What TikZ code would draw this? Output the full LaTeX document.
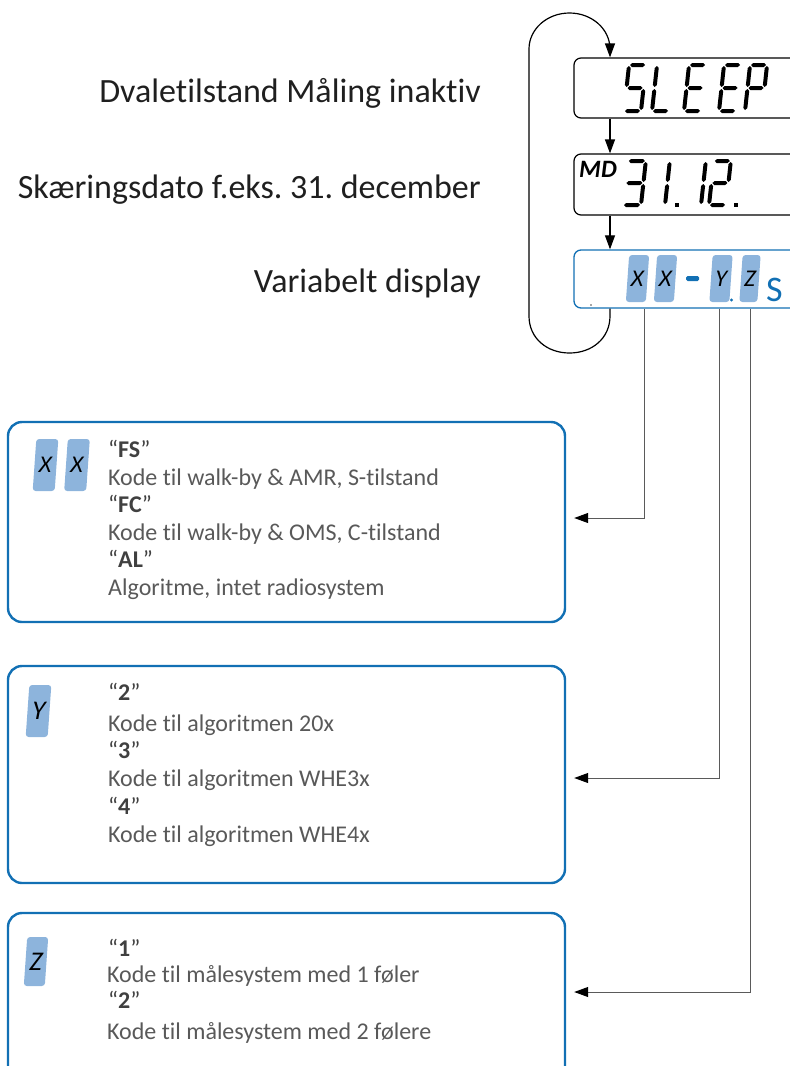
\documentclass[tikz,border=0pt]{standalone}
\usepackage{fontspec}
\setmainfont{Carlito}[Ligatures=NoCommon]
\usetikzlibrary{arrows.meta}
\frenchspacing
\definecolor{bxblue}{RGB}{18,112,180}
\definecolor{blkfill}{RGB}{141,180,220}
\definecolor{txtgray}{RGB}{89,89,89}
\definecolor{txtdark}{RGB}{64,64,64}
\definecolor{conngray}{RGB}{90,90,90}
% seven-segment helpers (local coords, y downward)
\newcommand\hsg[3]{\fill ({#1},{#3}) -- ({#1+2},{#3-2}) -- ({#2-2},{#3-2}) -- ({#2},{#3}) -- ({#2-2},{#3+2}) -- ({#1+2},{#3+2}) -- cycle;}
\newcommand\vsg[3]{\fill ({#1},{#2}) -- ({#1+2},{#2+2}) -- ({#1+2},{#3-2}) -- ({#1},{#3}) -- ({#1-2},{#3-2}) -- ({#1-2},{#2+2}) -- cycle;}
\newcommand\lcdsega[2]{\hsg{1}{#1-1}{-#2}}
\newcommand\lcdsegb[2]{\vsg{#1}{-#2+1}{-#2/2-1}}
\newcommand\lcdsegc[2]{\vsg{#1}{-#2/2+1}{-1}}
\newcommand\lcdsegd[2]{\hsg{1}{#1-1}{0}}
\newcommand\lcdsege[2]{\vsg{0}{-#2/2+1}{-1}}
\newcommand\lcdsegf[2]{\vsg{0}{-#2+1}{-#2/2-1}}
\newcommand\lcdsegg[2]{\hsg{1}{#1-1}{-#2/2}}
\newcommand\lcddigit[5]{\begin{scope}[shift={(#1,#2)},xslant=0.11]
  \foreach \s in {#5}{\csname lcdseg\s\endcsname{#3}{#4}}
\end{scope}}
\begin{document}
\begin{tikzpicture}[x=1pt,y=-1pt,
  infobox/.style={draw=bxblue, line width=2.4pt, rounded corners=14pt, minimum width=557pt, inner sep=0pt},
  lcdbox/.style={draw=black, line width=1.2pt, rounded corners=7pt, inner sep=0pt, minimum width=260pt},
  dispbox/.style={draw=bxblue, line width=1.3pt, rounded corners=7pt, inner sep=0pt, minimum width=260pt},
  lbl/.style={anchor=base east, inner sep=0pt, font=\fontsize{34}{40}\selectfont, text=black!88},
  bodytxt/.style={anchor=base west, inner sep=0pt, font=\fontsize{24}{28}\selectfont, text=txtgray},
  codetxt/.style={anchor=base west, inner sep=0pt, font=\fontsize{24}{28}\selectfont, text=txtdark},
  digitcell/.style={fill=blkfill, rounded corners=3pt, inner sep=0pt, xslant=0.07, transform shape, font=\fontsize{24}{24}\selectfont\itshape},
  looparrow/.style={line width=1.2pt, draw=black, -{Triangle[length=14pt,width=10pt]}},
  feed/.style={draw=conngray, line width=1pt, -{Triangle[length=14pt,width=10pt,color=black]}}
]
\useasboundingbox (0,0) rectangle (790,1066);
\clip (0,0) rectangle (790,1066);

% left labels
\node[lbl] (l1) at (481,102) {Dvaletilstand Måling inaktiv};
\node[lbl] (l2) at (481,198) {Skæringsdato f.eks. 31. december};
\node[lbl] (l3) at (481,292) {Variabelt display};

% LCD boxes
\node[lcdbox, minimum height=60pt] (sleep) at (704,88) {};
\node[lcdbox, minimum height=61pt] (md) at (704,184.5) {};
\node[dispbox, minimum height=58pt] (disp) at (704,279) {};

% SLEEP
\lcddigit{624}{111}{17}{46}{a,f,g,c,d}
\lcddigit{652}{111}{17}{46}{f,e,d}
\lcddigit{684}{111}{17}{46}{a,f,g,e,d}
\lcddigit{719}{111}{17}{46}{a,f,g,e,d}
\lcddigit{745}{111}{17}{46}{a,b,f,g,e}

% MD 31.12.
\node[anchor=base west, inner sep=0pt, font=\fontsize{25}{25}\selectfont\bfseries\itshape] (mdtxt) at (579,177) {MD};
\lcddigit{623}{205}{18}{44}{a,b,g,c,d}
\lcddigit{665}{205}{18}{44}{e,f}
\fill (675,203) rectangle (678.5,206.5);
\lcddigit{701}{205}{18}{44}{e,f}
\lcddigit{709}{205}{17}{44}{a,b,g,e,d}
\fill (734,203) rectangle (737.5,206.5);

% variable display
\node[digitcell, minimum width=20pt, minimum height=47pt] (dx1) at (637.5,278.5) {X};
\node[digitcell, minimum width=20pt, minimum height=47pt] (dx2) at (665.5,278.5) {X};
\fill[bxblue, rounded corners=1.5pt] (686,276) rectangle (699,281);
\node[digitcell, minimum width=20pt, minimum height=47pt] (dy) at (721,278.5) {Y};
\fill[bxblue] (731.5,300) circle (1.6pt);
\node[digitcell, minimum width=18pt, minimum height=47pt] (dz) at (750,278.5) {Z};
\fill[black!70] (591,305) circle (0.9pt);
\node[anchor=base west, inner sep=0pt, text=bxblue, font=\fontsize{36}{36}\selectfont] (dS) at (766,301) {S};

% loop and arrows
\coordinate (loopR) at (610,0);
\draw[looparrow] (sleep.south -| loopR) -- (md.north -| loopR);
\draw[looparrow] (md.south -| loopR) -- (disp.north -| loopR);
\draw[looparrow] (disp.south -| loopR) -- (610,316)
  .. controls (610,338.4) and (591.9,353) .. (569.5,353)
  .. controls (547.1,353) and (529,338.4) .. (529,316)
  -- (529,49)
  .. controls (529,29.1) and (547.1,13) .. (569.5,13)
  .. controls (591.9,13) and (610,29.1) .. (610,49)
  -- (sleep.north -| loopR);

% info boxes
\node[infobox, minimum height=200pt] (boxX) at (286.5,522) {};
\node[infobox, minimum height=217pt] (boxY) at (286.5,774.5) {};
\node[infobox, minimum height=180pt] (boxZ) at (286.5,1003) {};

% feed connectors
\coordinate (xX) at (644,518);
\coordinate (xY) at (719,778);
\coordinate (xZ) at (750,992);
\draw[feed] (disp.south -| xX) |- ([xshift=8pt]boxX.east |- xX);
\draw[feed] (disp.south -| xY) |- ([xshift=8pt]boxY.east |- xY);
\draw[feed] (disp.south -| xZ) |- ([xshift=8pt]boxZ.east |- xZ);

% XX box
\node[digitcell, minimum width=22pt, minimum height=52pt] (bx1) at (45.5,465) {X};
\node[digitcell, minimum width=22pt, minimum height=52pt] (bx2) at (77,465) {X};
\node[codetxt] (x1) at (108,457) {“\textbf{FS}”};
\node[bodytxt] (x2) at (108,485) {Kode til walk-by \& AMR, S-tilstand};
\node[codetxt] (x3) at (108,512) {“\textbf{FC}”};
\node[bodytxt] (x4) at (108,540) {Kode til walk-by \& OMS, C-tilstand};
\node[codetxt] (x5) at (108,567) {“\textbf{AL}”};
\node[bodytxt] (x6) at (108,595) {Algoritme, intet radiosystem};

% Y box
\node[digitcell, minimum width=22pt, minimum height=52pt, font=\fontsize{27}{27}\selectfont\itshape] (by) at (38.5,711) {Y};
\node[codetxt] (y1) at (108,700) {“\textbf{2}”};
\node[bodytxt] (y2) at (108,731) {Kode til algoritmen 20x};
\node[codetxt] (y3) at (108,758) {“\textbf{3}”};
\node[bodytxt] (y4) at (108,786) {Kode til algoritmen WHE3x};
\node[codetxt] (y5) at (108,814) {“\textbf{4}”};
\node[bodytxt] (y6) at (108,842) {Kode til algoritmen WHE4x};

% Z box
\node[digitcell, minimum width=21pt, minimum height=49pt, font=\fontsize{27}{27}\selectfont\itshape] (bz) at (36,961.5) {Z};
\node[codetxt] (z1) at (108,956) {“\textbf{1}”};
\node[bodytxt] (z2) at (107,982) {Kode til målesystem med 1 føler};
\node[codetxt] (z3) at (108,1008) {“\textbf{2}”};
\node[bodytxt] (z4) at (107,1039) {Kode til målesystem med 2 følere};
\end{tikzpicture}
\end{document}
